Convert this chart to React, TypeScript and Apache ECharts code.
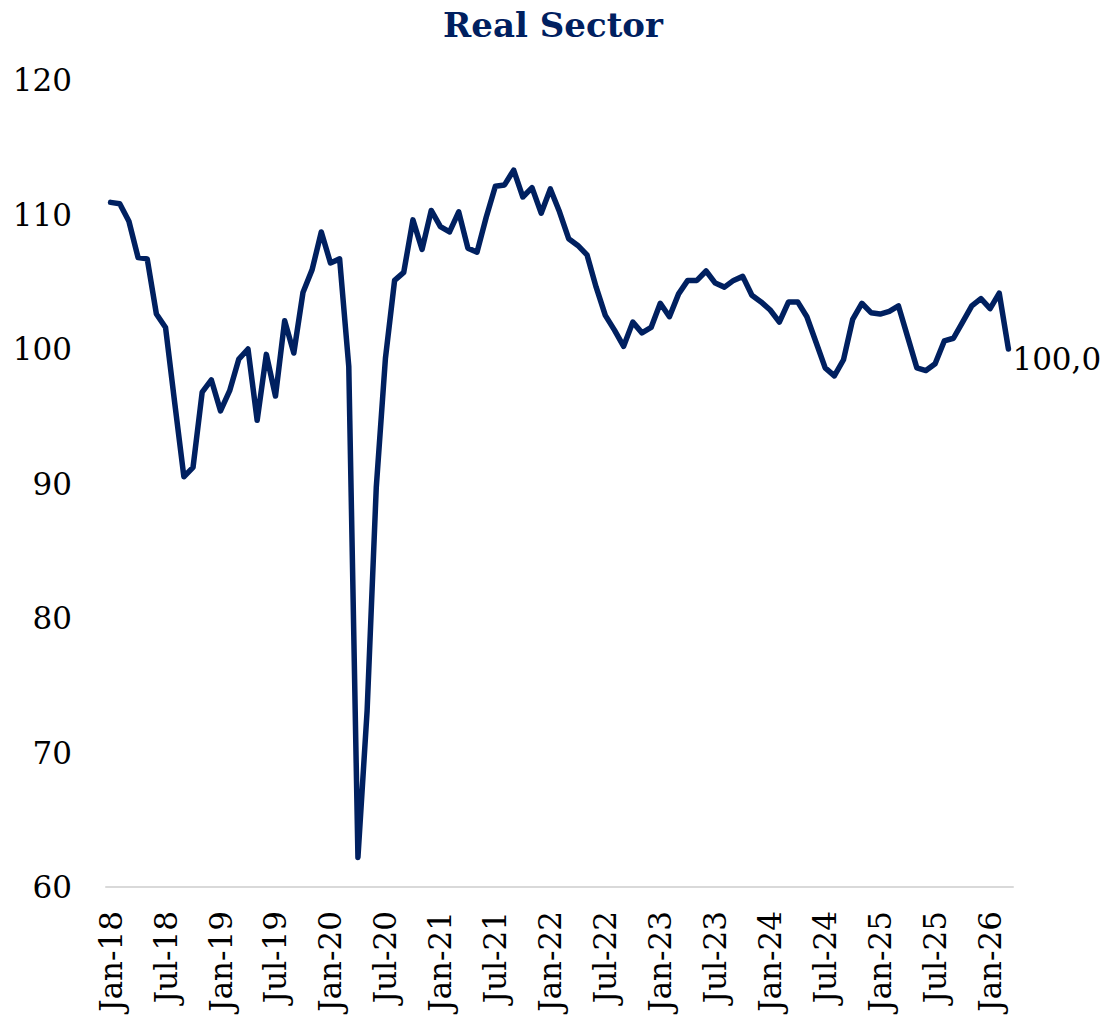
import React, { useEffect, useRef } from "react";
import * as echarts from "echarts";

const MONTHS = ["Jan", "Feb", "Mar", "Apr", "May", "Jun", "Jul", "Aug", "Sep", "Oct", "Nov", "Dec"];
const YEARS = ["18", "19", "20", "21", "22", "23", "24", "25", "26"];
const POINT_COUNT = 99; // Jan-18 .. Mar-26

const categories: string[] = [];
for (const y of YEARS) {
  for (const m of MONTHS) {
    if (categories.length < POINT_COUNT) categories.push(`${m}-${y}`);
  }
}

const values2018 = [110.9, 110.8, 109.5, 106.8, 106.7, 102.6, 101.6, 96.0, 90.5, 91.2, 96.8, 97.7];
const values2019 = [95.4, 96.9, 99.25, 100.0, 94.7, 99.6, 96.5, 102.1, 99.7, 104.2, 105.9, 108.7];
const values2020 = [106.4, 106.7, 98.7, 62.2, 73.1, 89.7, 99.3, 105.1, 105.7, 109.6, 107.4, 110.3];
const values2021 = [109.1, 108.7, 110.2, 107.5, 107.2, 109.8, 112.1, 112.2, 113.3, 111.3, 112.0, 110.1];
const values2022 = [111.9, 110.2, 108.2, 107.7, 107.0, 104.6, 102.5, 101.4, 100.2, 102.0, 101.2, 101.6];
const values2023 = [103.4, 102.4, 104.1, 105.1, 105.1, 105.8, 104.9, 104.6, 105.1, 105.4, 104.0, 103.5];
const values2024 = [102.9, 102.0, 103.5, 103.5, 102.4, 100.5, 98.6, 98.0, 99.2, 102.2, 103.4, 102.7];
const values2025 = [102.6, 102.8, 103.2, 100.9, 98.6, 98.4, 98.9, 100.6, 100.8, 102.0, 103.2, 103.75];
const values2026 = [103.0, 104.15, 100.0];

const seriesValues = [
  ...values2018, ...values2019, ...values2020, ...values2021, ...values2022,
  ...values2023, ...values2024, ...values2025, ...values2026,
];

const yTicks = { min: 60, max: 120, interval: 10 };
const TITLE = "Real Sector";
const NAVY = "#002060";
const FONT = "DejaVu Serif";

export default function App() {
  const ref = useRef<HTMLDivElement>(null);
  useEffect(() => {
    document.body.style.margin = "0";
    if (!ref.current) return;
    const chart = echarts.init(ref.current, null, { renderer: "svg" });
    chart.setOption({
      animation: false,
      backgroundColor: "#ffffff",
      title: {
        text: TITLE,
        left: "center",
        top: 3,
        textStyle: { fontFamily: FONT, fontWeight: "bold", fontSize: 34, color: NAVY },
      },
      grid: { left: 106, right: 93, top: 80, bottom: 133, containLabel: false },
      xAxis: {
        type: "category",
        data: categories,
        boundaryGap: true,
        axisLine: { show: true, lineStyle: { color: "#d9d9d9", width: 2 } },
        axisTick: { show: false },
        axisLabel: {
          interval: 5,
          rotate: 90,
          margin: 24,
          fontFamily: FONT,
          fontSize: 31,
          color: "#000000",
        },
        splitLine: { show: false },
      },
      yAxis: {
        type: "value",
        min: yTicks.min,
        max: yTicks.max,
        interval: yTicks.interval,
        axisLine: { show: false },
        axisTick: { show: false },
        splitLine: { show: false },
        axisLabel: { margin: 34, fontFamily: FONT, fontSize: 31, color: "#000000" },
      },
      series: [
        {
          type: "line",
          data: seriesValues,
          showSymbol: false,
          symbol: "none",
          clip: false,
          lineStyle: { color: NAVY, width: 5.5, join: "round", cap: "round" },
          itemStyle: { color: NAVY },
          endLabel: {
            show: true,
            distance: 4,
            offset: [0, 10],
            fontFamily: FONT,
            fontSize: 31,
            color: "#000000",
            formatter: (p: any) => Number(p.value).toFixed(1).replace(".", ","),
          },
        },
      ],
    });
    return () => chart.dispose();
  }, []);
  return <div ref={ref} style={{ width: 1106, height: 1020 }} />;
}
